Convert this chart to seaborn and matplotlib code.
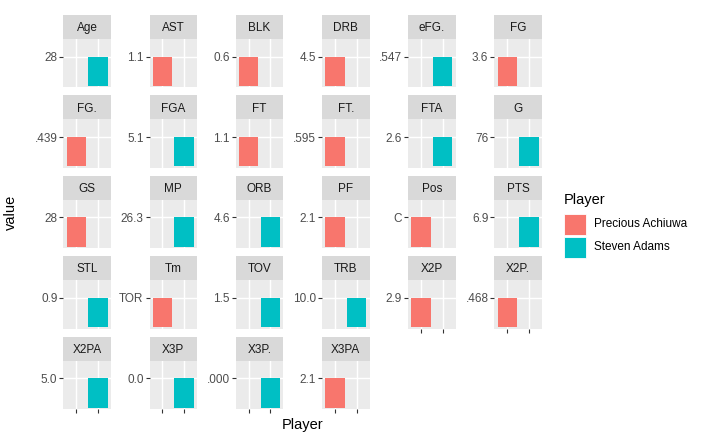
import matplotlib
matplotlib.use("Agg")
import matplotlib.pyplot as plt
from matplotlib.patches import Rectangle
import seaborn as sns
import pandas as pd

# one value per stat, shown for the player that holds it
stats = ["Age", "AST", "BLK", "DRB", "eFG.", "FG",
         "FG.", "FGA", "FT", "FT.", "FTA", "G",
         "GS", "MP", "ORB", "PF", "Pos", "PTS",
         "STL", "Tm", "TOV", "TRB", "X2P", "X2P.",
         "X2PA", "X3P", "X3P.", "X3PA"]
holder = ["Steven Adams", "Precious Achiuwa", "Precious Achiuwa", "Precious Achiuwa", "Steven Adams", "Precious Achiuwa",
          "Precious Achiuwa", "Steven Adams", "Precious Achiuwa", "Precious Achiuwa", "Steven Adams", "Steven Adams",
          "Precious Achiuwa", "Steven Adams", "Steven Adams", "Precious Achiuwa", "Precious Achiuwa", "Steven Adams",
          "Steven Adams", "Precious Achiuwa", "Steven Adams", "Steven Adams", "Precious Achiuwa", "Precious Achiuwa",
          "Steven Adams", "Steven Adams", "Steven Adams", "Precious Achiuwa"]
values = ["28", "1.1", "0.6", "4.5", ".547", "3.6",
          ".439", "5.1", "1.1", ".595", "2.6", "76",
          "28", "26.3", "4.6", "2.1", "C", "6.9",
          "0.9", "TOR", "1.5", "10.0", "2.9", ".468",
          "5.0", "0.0", ".000", "2.1"]
players = ["Precious Achiuwa", "Steven Adams"]
palette = {"Precious Achiuwa": "#F8766D", "Steven Adams": "#00BFC4"}

df = pd.DataFrame({"stat": stats, "Player": holder, "value": values})

plt.rcParams["font.family"] = ["Liberation Sans", "DejaVu Sans"]

W, H = 713, 437
fig = plt.figure(figsize=(W / 100, H / 100), dpi=100)

ncol = 6
left0, col_pitch, pw = 63.3, 86.2, 47.6
top0, row_pitch, sh, ph = 15.0, 80.4, 24.0, 48.4
tick_len = 2.66
n = len(stats)

for i, row in df.iterrows():
    r, c = divmod(i, ncol)
    x0 = left0 + c * col_pitch
    stop = top0 + r * row_pitch
    ptop = stop + sh

    # strip
    sax = fig.add_axes([x0 / W, 1 - ptop / H, pw / W, sh / H])
    sax.set_facecolor("#D9D9D9")
    sax.set_xticks([])
    sax.set_yticks([])
    for s in sax.spines.values():
        s.set_visible(False)
    sax.text(0.5, 0.45, row["stat"], ha="center", va="center",
             fontsize=8.45, color="#1A1A1A", transform=sax.transAxes)

    ax = fig.add_axes([x0 / W, 1 - (ptop + ph) / H, pw / W, ph / H])
    sub = df.iloc[[i]].copy()
    sub["pos"] = pd.Categorical(sub["value"]).codes + 1
    sns.barplot(data=sub, x="Player", y="pos", hue="Player", order=players,
                hue_order=players, palette=palette, width=0.9, legend=False,
                saturation=1, ax=ax)
    ax.set_facecolor("#EBEBEB")
    ax.set_xlim(-0.6, 1.6)
    ax.set_ylim(-0.05, 1.6)
    ax.set_axisbelow(True)
    ax.grid(True, color="white", linewidth=1.07)
    ax.set_yticks(sub["pos"].tolist())
    ax.set_yticklabels(sub["value"].tolist())
    ax.set_xlabel("")
    ax.set_ylabel("")
    for s in ax.spines.values():
        s.set_visible(False)
    ax.tick_params(axis="y", length=tick_len, width=0.8, color="#333333",
                   labelcolor="#4D4D4D", labelsize=8.45, pad=1.6)
    bottom = (i + ncol >= n)
    ax.set_xticks([0, 1])
    ax.set_xticklabels(["", ""])
    ax.tick_params(axis="x", length=tick_len if bottom else 0, width=0.8,
                   color="#333333")

fig.text(11 / W, 1 - 212 / H, "value", rotation=90, ha="center", va="center",
         fontsize=10.56, color="black")
fig.text(302.6 / W, 1 - 425 / H, "Player", ha="center", va="center",
         fontsize=10.56, color="black")

# legend
fig.text(564 / W, 1 - 200 / H, "Player", ha="left", va="center",
         fontsize=10.56, color="black")
for k, p in enumerate(players):
    ktop = 213.5 + k * 23
    fig.add_artist(Rectangle((563.5 / W, 1 - (ktop + 21) / H), 22.5 / W, 21 / H,
                             transform=fig.transFigure, facecolor=palette[p],
                             edgecolor="white", linewidth=0.6))
    fig.text(594 / W, 1 - (ktop + 10.5) / H, p, ha="left", va="center",
             fontsize=8.45, color="black")

fig.savefig("out.png", dpi=100)
